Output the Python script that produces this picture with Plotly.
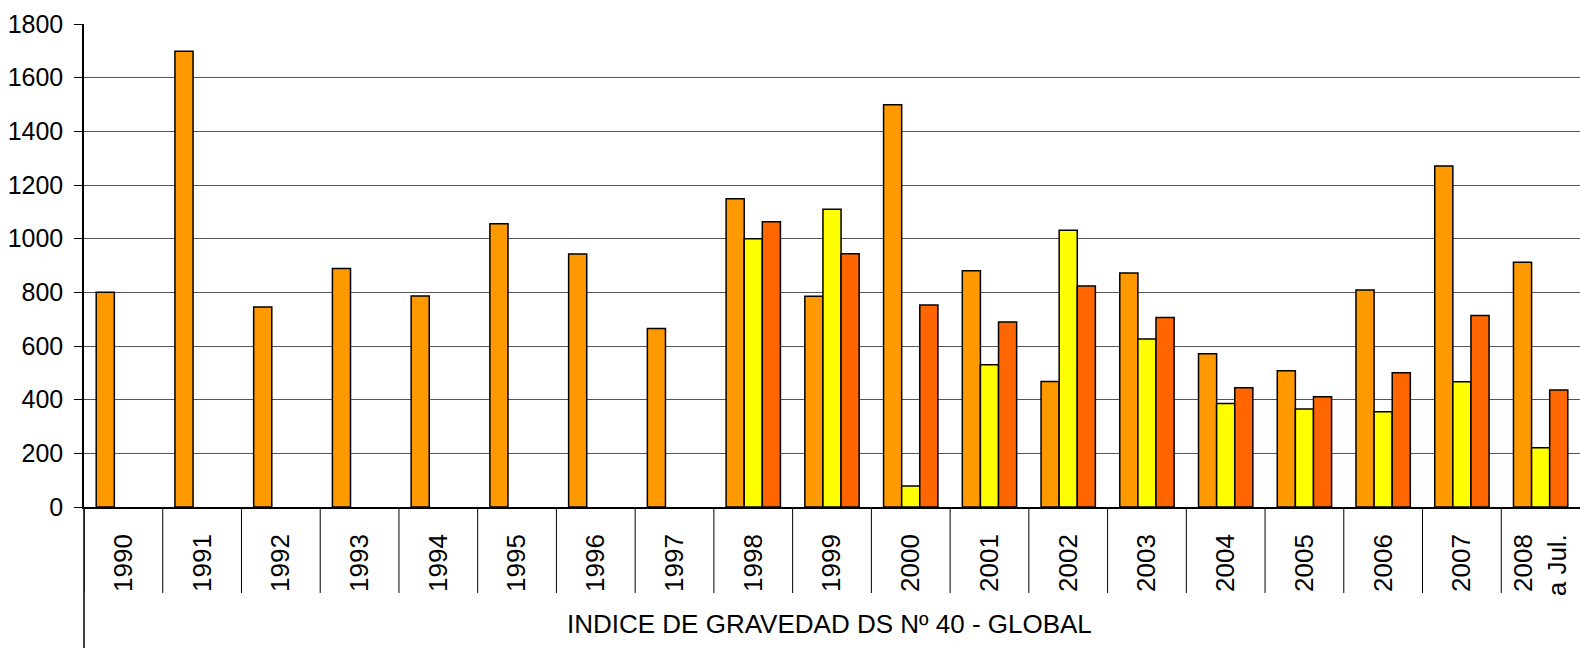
import plotly.graph_objects as go

categories = ["1990", "1991", "1992", "1993", "1994", "1995", "1996", "1997", "1998", "1999",
              "2000", "2001", "2002", "2003", "2004", "2005", "2006", "2007", "2008<br>a Jul."]
serie_a = [800, 1698, 745, 889, 786, 1056, 943, 665, 1149, 785,
           1499, 880, 468, 872, 571, 508, 809, 1271, 912]
serie_b = [None, None, None, None, None, None, None, None, 1000, 1110,
           78, 530, 1031, 626, 386, 365, 355, 467, 221]
serie_c = [None, None, None, None, None, None, None, None, 1063, 944,
           753, 689, 824, 706, 444, 411, 500, 714, 436]
y_ticks = [0, 200, 400, 600, 800, 1000, 1200, 1400, 1600, 1800]
x_title = "INDICE DE GRAVEDAD DS Nº 40 - GLOBAL"

colors = ["#FF9900", "#FFFF00", "#FF6600"]
font = "Liberation Sans, Arial, sans-serif"

fig = go.Figure()
for name, vals, col in [("A", serie_a, colors[0]), ("B", serie_b, colors[1]), ("C", serie_c, colors[2])]:
    fig.add_trace(go.Bar(x=list(range(len(categories))), y=vals, name=name,
                         marker=dict(color=col, line=dict(color="black", width=1.5))))

W, H = 1580, 648
left, top, bottom = 84, 24, 141
plot_h = H - top - bottom

fig.update_layout(
    width=W, height=H,
    margin=dict(l=left, r=0, t=top, b=bottom, pad=0, autoexpand=False),
    plot_bgcolor="white", paper_bgcolor="white",
    barmode="group", bargap=0.31, bargroupgap=0,
    showlegend=False,
    font=dict(family=font, color="black", size=24),
)
fig.update_yaxes(range=[0, 1800], tickvals=y_ticks, showgrid=True, gridcolor="#555555", gridwidth=1.2,
                 showline=True, linecolor="black", linewidth=1.5, ticks="outside", ticklen=8,
                 tickcolor="black", tickfont=dict(size=25), zeroline=False, automargin=False,
                 ticklabelstandoff=6)
fig.update_xaxes(range=[-0.5, len(categories) - 0.5], tickvals=list(range(len(categories))),
                 ticktext=categories, tickangle=-90, ticks="", showline=True, linecolor="black",
                 linewidth=1.5, tickfont=dict(size=26), ticklabelstandoff=15, automargin=False)

sep_bottom = -(593 - (H - bottom)) / plot_h
for i in range(len(categories)):
    fig.add_shape(type="line", xref="x", yref="paper", x0=i - 0.5, x1=i - 0.5, y0=0, y1=sep_bottom,
                  line=dict(color="black", width=1))
fig.add_shape(type="line", xref="paper", yref="paper", x0=0, x1=0, y0=0, y1=-(H - (H - bottom)) / plot_h,
              line=dict(color="black", width=1.5))

fig.add_annotation(text=x_title, xref="paper", yref="paper", x=0.4985,
                   y=-(624 - (H - bottom)) / plot_h, showarrow=False, yanchor="middle",
                   font=dict(size=26, family=font))

fig.write_html("out.html", config={"displayModeBar": False},
               post_script="document.body.style.margin='0';document.body.style.overflow='hidden';")
